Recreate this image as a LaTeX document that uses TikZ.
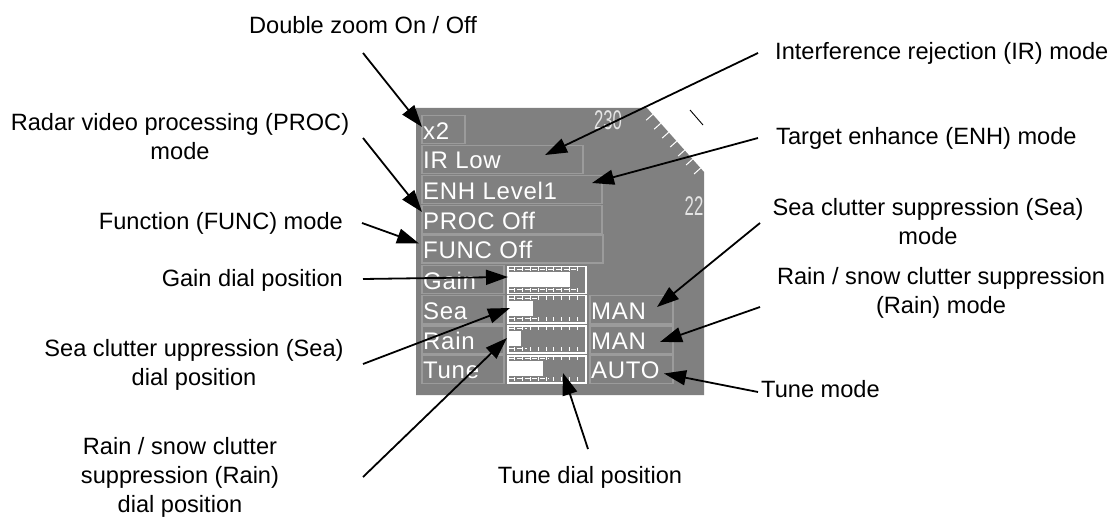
\documentclass[tikz,border=0pt]{standalone}
\usepackage{fontspec}
\setmainfont{Liberation Sans}
\newfontfamily\scrfont[LetterSpace=3]{Liberation Sans}
\usetikzlibrary{arrows.meta,calc}
\definecolor{panelgray}{RGB}{128,128,128}
\definecolor{cellline}{RGB}{155,155,155}
\definecolor{scaletext}{RGB}{228,228,228}
\newcommand\mydial[4]{%
  \node[dialbox] (#1) at (#2,#3) {};
  \fill[white] (#2+2,#3+6) rectangle (#2+2+#4,#3+21);
  \draw[white,line width=1pt,dash pattern=on 5pt off 2.8pt] (#2+2,#3+3.5) -- (#2+8+#4,#3+3.5);
  \draw[white,line width=1pt,dash pattern=on 5pt off 2.8pt] (#2+2,#3+23.5) -- (#2+8+#4,#3+23.5);
  \foreach \k in {1,...,9}{%
    \draw[white,line width=1pt] (#2+\k*7.8,#3+1) -- (#2+\k*7.8,#3+5);
    \draw[white,line width=1pt] (#2+\k*7.8,#3+26) -- (#2+\k*7.8,#3+22);
  }%
}
\begin{document}
\begin{tikzpicture}[x=1pt,y=-1pt,
  lbl/.style={font=\fontsize{23.6}{29}\selectfont, inner sep=0pt, align=center},
  cell/.style={draw=cellline, line width=1.5pt, inner sep=0pt, anchor=north west, minimum height=28pt},
  dialbox/.style={draw=white, line width=1.5pt, inner sep=0pt, anchor=north west, minimum width=78pt, minimum height=27pt},
  scr/.style={font=\scrfont\fontsize{24}{24}\selectfont, text=white, inner sep=0pt, anchor=west},
  scale num/.style={font=\fontsize{27}{27}\selectfont, text=scaletext, inner sep=0pt},
  callout/.style={line width=1.8pt, -{Triangle[length=22pt,width=15pt]}}]
\useasboundingbox (0,0) rectangle (1118,518);
\fill[white] (0,0) rectangle (1118,518);

% radar panel
\fill[panelgray] (416,108) -- (647,108) -- (704,172) -- (704,395) -- (416,395) -- cycle;
\foreach \t in {0.1,0.24,...,0.95}{%
  \draw[white,line width=1pt] ($(647,108)!\t!(704,172)$) -- ++(-6.5,5.8);
}
\draw[black,line width=0.9pt] (690,110) -- (703,125);
\node[scale num] (n230) at (608,120) {\scalebox{0.62}[1]{230}};
\node[scale num] (n22) at (694,206) {\scalebox{0.62}[1]{22}};

% cells
\node[cell, minimum width=43pt] (x2) at (421,115) {};
\node[cell, minimum width=161pt] (irb) at (421,145) {};
\node[cell, minimum width=180pt] (enhb) at (421,175) {};
\node[cell, minimum width=180pt] (procb) at (421,205) {};
\node[cell, minimum width=181pt] (funcb) at (421,234.5) {};
\node[cell, minimum width=82pt] (gainl) at (421,265) {};
\node[cell, minimum width=82pt] (seal) at (421,295) {};
\node[cell, minimum width=82pt] (rainl) at (421,325) {};
\node[cell, minimum width=82pt] (tunel) at (421,354.5) {};
\node[cell, minimum width=83pt] (seaman) at (589,295) {};
\node[cell, minimum width=83pt] (rainman) at (589,325) {};
\node[cell, minimum width=83pt] (tuneauto) at (589,354.5) {};

\node[scr] (tx2) at ($(x2.west)+(2,1)$) {x2};
\node[scr] (tir) at ($(irb.west)+(2,1)$) {IR Low};
\node[scr] (tenh) at ($(enhb.west)+(2,1)$) {ENH Level1};
\node[scr] (tproc) at ($(procb.west)+(2,1)$) {PROC Off};
\node[scr] (tfunc) at ($(funcb.west)+(2,1)$) {FUNC Off};
\node[scr] (tgain) at ($(gainl.west)+(2,1)$) {Gain};
\node[scr] (tsea) at ($(seal.west)+(2,1)$) {Sea};
\node[scr] (train) at ($(rainl.west)+(2,1)$) {Rain};
\node[scr] (ttune) at ($(tunel.west)+(2,1)$) {Tune};
\node[scr] (tsman) at ($(seaman.west)+(2,1)$) {MAN};
\node[scr] (trman) at ($(rainman.west)+(2,1)$) {MAN};
\node[scr] (tauto) at ($(tuneauto.west)+(2,1)$) {AUTO};

% dial bars
\mydial{gainbar}{507}{266}{61}
\mydial{seabar}{507}{295}{24}
\mydial{rainbar}{507}{325}{12}
\mydial{tunebar}{507}{355}{34}

% labels
\node[lbl] (ldz) at (363,25) {Double zoom On / Off};
\node[lbl] (lproc) at (180,137) {Radar video processing (PROC)\\mode};
\node[lbl, anchor=east] (lfunc) at (343,223) {Function (FUNC) mode};
\node[lbl, anchor=east] (lgain) at (343,280) {Gain dial position};
\node[lbl] (lsead) at (194,365) {Sea clutter uppression (Sea)\\dial position};
\node[lbl] (lraind) at (180,477) {Rain / snow clutter\\suppression (Rain)\\dial position};
\node[lbl, anchor=west] (lir) at (775,53) {Interference rejection (IR) mode};
\node[lbl, anchor=west] (lenh) at (776,138) {Target enhance (ENH) mode};
\node[lbl] (lseam) at (928,222) {Sea clutter suppression (Sea)\\mode};
\node[lbl] (lrainm) at (941,293) {Rain / snow clutter suppression\\(Rain) mode};
\node[lbl, anchor=west] (ltunem) at (761,389) {Tune mode};
\node[lbl] (ltuned) at (590,477) {Tune dial position};

% connector start points
\coordinate (sdz) at (363,53);
\coordinate (sproc) at (363,138);
\coordinate (sfunc) at (362,223);
\coordinate (sgain) at (363,279);
\coordinate (ssead) at (363,364);
\coordinate (sraind) at (363,477);
\coordinate (sir) at (758,53);
\coordinate (senh) at (758,138);
\coordinate (sseam) at (760,223);
\coordinate (srainm) at (760,307);
\coordinate (stunem) at (758,392);
\coordinate (stuned) at (588,449);

% connectors
\draw[callout] (sdz) -- ($(x2.north west)+(1,12)$);
\draw[callout] (sproc) -- ($(procb.north west)+(1,7)$);
\draw[callout] (sfunc) -- ($(funcb.north west)+(-2,9)$);
\draw[callout] (sgain) -- ($(gainbar.north west)+(1,11)$);
\draw[callout] (ssead) -- ($(seabar.north west)+(3,13)$);
\draw[callout] (sraind) -- ($(rainbar.north west)+(0,13)$);
\draw[callout] (sir) -- ($(irb.north west)+(124,10)$);
\draw[callout] (senh) -- ($(enhb.north west)+(171,8)$);
\draw[callout] (sseam) -- ($(seaman.north west)+(68,12)$);
\draw[callout] (srainm) -- ($(rainman.north west)+(71,17)$);
\draw[callout] (stunem) -- ($(tuneauto.north west)+(75,19)$);
\draw[callout] (stuned) -- ($(tunebar.north west)+(56,18)$);
\end{tikzpicture}
\end{document}
